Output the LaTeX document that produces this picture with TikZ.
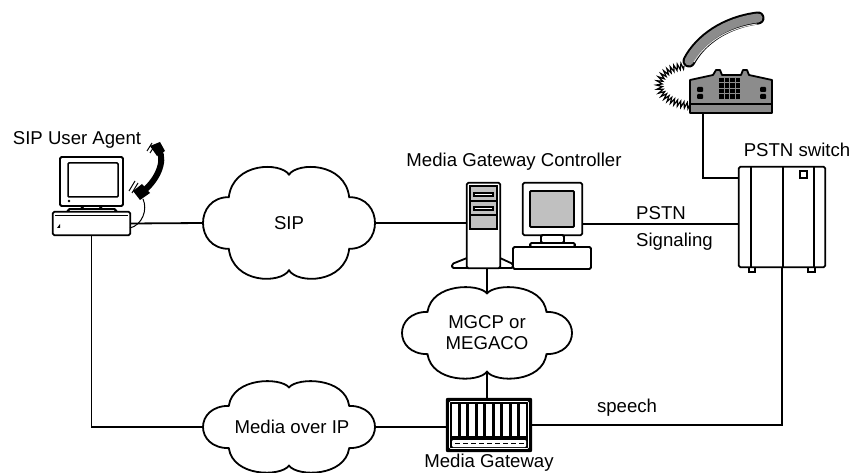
\documentclass[tikz,border=0pt]{standalone}
\usepackage{fontspec}
\setmainfont{Liberation Sans}
\usetikzlibrary{decorations.pathmorphing}
\definecolor{screengray}{RGB}{192,192,192}
\definecolor{phonegray}{RGB}{140,140,140}

% cloud outline, unit half-width and half-height
\newcommand\cloudpath{(-0.70,-0.47) .. controls (-1.1,-0.47) and (-1.1,0.47) .. (-0.70,0.47)
  .. controls (-0.65,1.11) and (-0.1,1.11) .. (0,0.88)
  .. controls (0.1,1.11) and (0.65,1.11) .. (0.70,0.47)
  .. controls (1.1,0.47) and (1.1,-0.47) .. (0.70,-0.47)
  .. controls (0.65,-1.11) and (0.1,-1.11) .. (0,-0.86)
  .. controls (-0.1,-1.11) and (-0.65,-1.11) .. cycle}

\begin{document}
\begin{tikzpicture}[x=1pt, y=-1pt,
  wire/.style={line width=1.8pt},
  dev/.style={line width=1.8pt, fill=white, rounded corners=1.5pt},
  lbl/.style={font=\fontsize{18.6}{21}\selectfont, inner sep=0pt, align=center},
  hold/.style={inner sep=0pt, draw=none}]
\useasboundingbox (0,0) rectangle (854,473);

% place holders for the devices and clouds
\node[hold, minimum width=77, minimum height=23] (ua) at (91.5,223.5) {};
\node[hold, minimum width=33, minimum height=85] (tower) at (483.5,225.5) {};
\node[hold, minimum width=59, minimum height=52] (mon) at (552.5,209) {};
\node[hold, minimum width=86, minimum height=100] (pstn) at (782,217) {};
\node[hold, minimum width=82, minimum height=43] (phone) at (731,91.5) {};
\node[hold, minimum width=86, minimum height=54] (gw) at (489,425) {};
\node[hold, minimum width=172, minimum height=96] (sip) at (289,223) {};
\node[hold, minimum width=172, minimum height=78] (mip) at (289,427) {};
\node[hold, minimum width=170, minimum height=78] (mgcp) at (487,333) {};
\coordinate (jack) at ([xshift=-28pt]phone.south);

% links
\draw[wire] (ua.east) -- (sip.west);
\draw[wire] (ua.south) |- (mip.west);
\draw[wire] (sip.east) -- (sip.east -| tower.west);
\draw[wire] (mgcp.north) -- (mgcp.north |- tower.south);
\draw[wire] (mgcp.south) -- (mgcp.south |- gw.north);
\draw[wire] (mip.east) -- (mip.east -| gw.west);
\draw[wire] (gw.east) -| (pstn.south);
\draw[wire] ([yshift=-15pt]mon.east) -- ([yshift=-15pt]mon.east -| pstn.west);
\draw[wire] (jack) |- ([yshift=-11pt]pstn.north west);

% clouds
\draw[wire, fill=white, shift={(289,223)}, x=86pt, y=55pt] \cloudpath;
\draw[wire, fill=white, shift={(289,427)}, x=86pt, y=45pt] \cloudpath;
\draw[wire, fill=white, shift={(487,333)}, x=85pt, y=45pt] \cloudpath;
\node[lbl] (siptxt) at (sip) {SIP};
\node[lbl] (miptxt) at (292,427) {Media over IP};
\node[lbl] (mgcptxt) at (mgcp) {MGCP or\\MEGACO};

% SIP user agent: pc and handset
\draw[dev] (60,157) rectangle (123,206);
\draw[line width=1.5pt, rounded corners=1pt] (68,163) rectangle (118,197);
\fill (69,201) circle (1.3);
\draw[dev] (82,206) rectangle (101,209);
\draw[dev] (68,209) rectangle (116,212);
\draw[dev] (ua.south west) rectangle (ua.north east);
\draw[line width=1pt] (55,216) -- (128,216);
\fill (57,228) -- (60,224) -- (60,228) -- cycle;
\draw[line width=6pt] (159,150) .. controls (166,162) and (156,182) .. (142,192);
\fill (150,146) -- (160,142) -- (165,151) -- (157,156) -- cycle;
\fill (133,191) -- (142,184) -- (150,193) -- (140,200) -- cycle;
\draw[line width=1pt] (147,151) -- (152,143);
\draw[line width=1pt] (150,153) -- (155,145);
\draw[line width=1pt] (129,191) -- (135,181);
\draw[line width=1pt] (132,193) -- (138,183);
\draw[line width=1pt] (143,199) .. controls (148,210) and (142,225) .. (130,228);

% media gateway controller: tower and monitor
\draw[dev] (467,258) -- (452,264) -- (452,268) -- (513,268) -- (513,264) -- (500,258);
\draw[dev] (tower.south west) rectangle (tower.north east);
\draw[line width=1.5pt, fill=screengray] (470,186) rectangle (497,229);
\draw[line width=1.2pt] (470,201) -- (497,201);
\draw[line width=1.2pt] (470,215) -- (497,215);
\foreach \y in {193,207}
  \draw[line width=1.2pt, fill=white] (474,\y) rectangle (493,\y+3);
\draw[dev] (mon.south west) rectangle (mon.north east);
\draw[line width=1.8pt, fill=screengray, rounded corners=1pt] (530,191) rectangle (574,227);
\draw[dev] (541,235) rectangle (564,243);
\draw[dev] (530,243) rectangle (575,247);
\draw[dev] (513,247) rectangle (591,269);

% PSTN switch
\draw[line width=1.2pt, fill=white] (749,267) rectangle (755,272);
\draw[line width=1.2pt, fill=white] (808,267) rectangle (815,272);
\draw[dev] (pstn.south west) rectangle (pstn.north east);
\foreach \x in {751,783,814}
  \draw[wire] (\x,167) -- (\x,267);
\draw[line width=1.2pt, fill=white] (800,171) rectangle (807,178);

% telephone
\draw[line width=1.2pt, decorate, decoration={zigzag, amplitude=3pt, segment length=3.5pt}]
  (684,66) .. controls (652,70) and (648,100) .. (690,106);
\draw[line width=13pt, line cap=round] (689,61) .. controls (700,40) and (725,22) .. (758,18);
\draw[line width=9pt, phonegray, line cap=round] (689,61) .. controls (700,40) and (725,22) .. (758,18);
\draw[line width=1pt, gray!25] (694,62) .. controls (706,42) and (728,28) .. (757,24);
\draw[line width=1.8pt, fill=phonegray, line join=round] (690,113) -- (690,80) -- (713,75)
  -- (716,70) -- (720,70) -- (722,75) -- (741,75) -- (743,70) -- (747,70) -- (749,75)
  -- (772,80) -- (772,113) -- cycle;
\draw[line width=1.8pt] (690,104) -- (772,104);
\foreach \c in {0,...,3}
  \foreach \r in {0,...,3}
    \fill (719+5.5*\c,78+5.5*\r) rectangle +(4.5,4.5);
\foreach \x in {697,760} {
  \fill[rounded corners=1pt] (\x,87) rectangle +(6,5);
  \fill[rounded corners=1pt] (\x,94) rectangle +(6,5);
}

% media gateway
\fill[rounded corners=2pt] (gw.south west) rectangle (gw.north east);
\draw[white, line width=0.6pt, rounded corners=1pt] (449.5,401.5) rectangle (528.5,448.5);
\foreach \i in {0,...,8}
  \fill[white] (452+8.5*\i,404) rectangle +(5.5,32);
\fill[white, rounded corners=1pt] (452,440) rectangle (526,447);
\draw[line width=1.2pt, dash pattern=on 5pt off 3pt] (455,443.5) -- (524,443.5);

% labels
\node[lbl] (ualbl) at (77,140) {SIP User Agent};
\node[lbl] (mgclbl) at (514,162) {Media Gateway Controller};
\node[lbl] (pstnlbl) at (797,150) {PSTN switch};
\node[lbl, anchor=west] (sig1) at (636,213) {PSTN};
\node[lbl, anchor=west] (sig2) at (636,242) {Signaling};
\node[lbl] (speech) at (627,408) {speech};
\node[lbl] (gwlbl) at (489,463) {Media Gateway};
\end{tikzpicture}
\end{document}
